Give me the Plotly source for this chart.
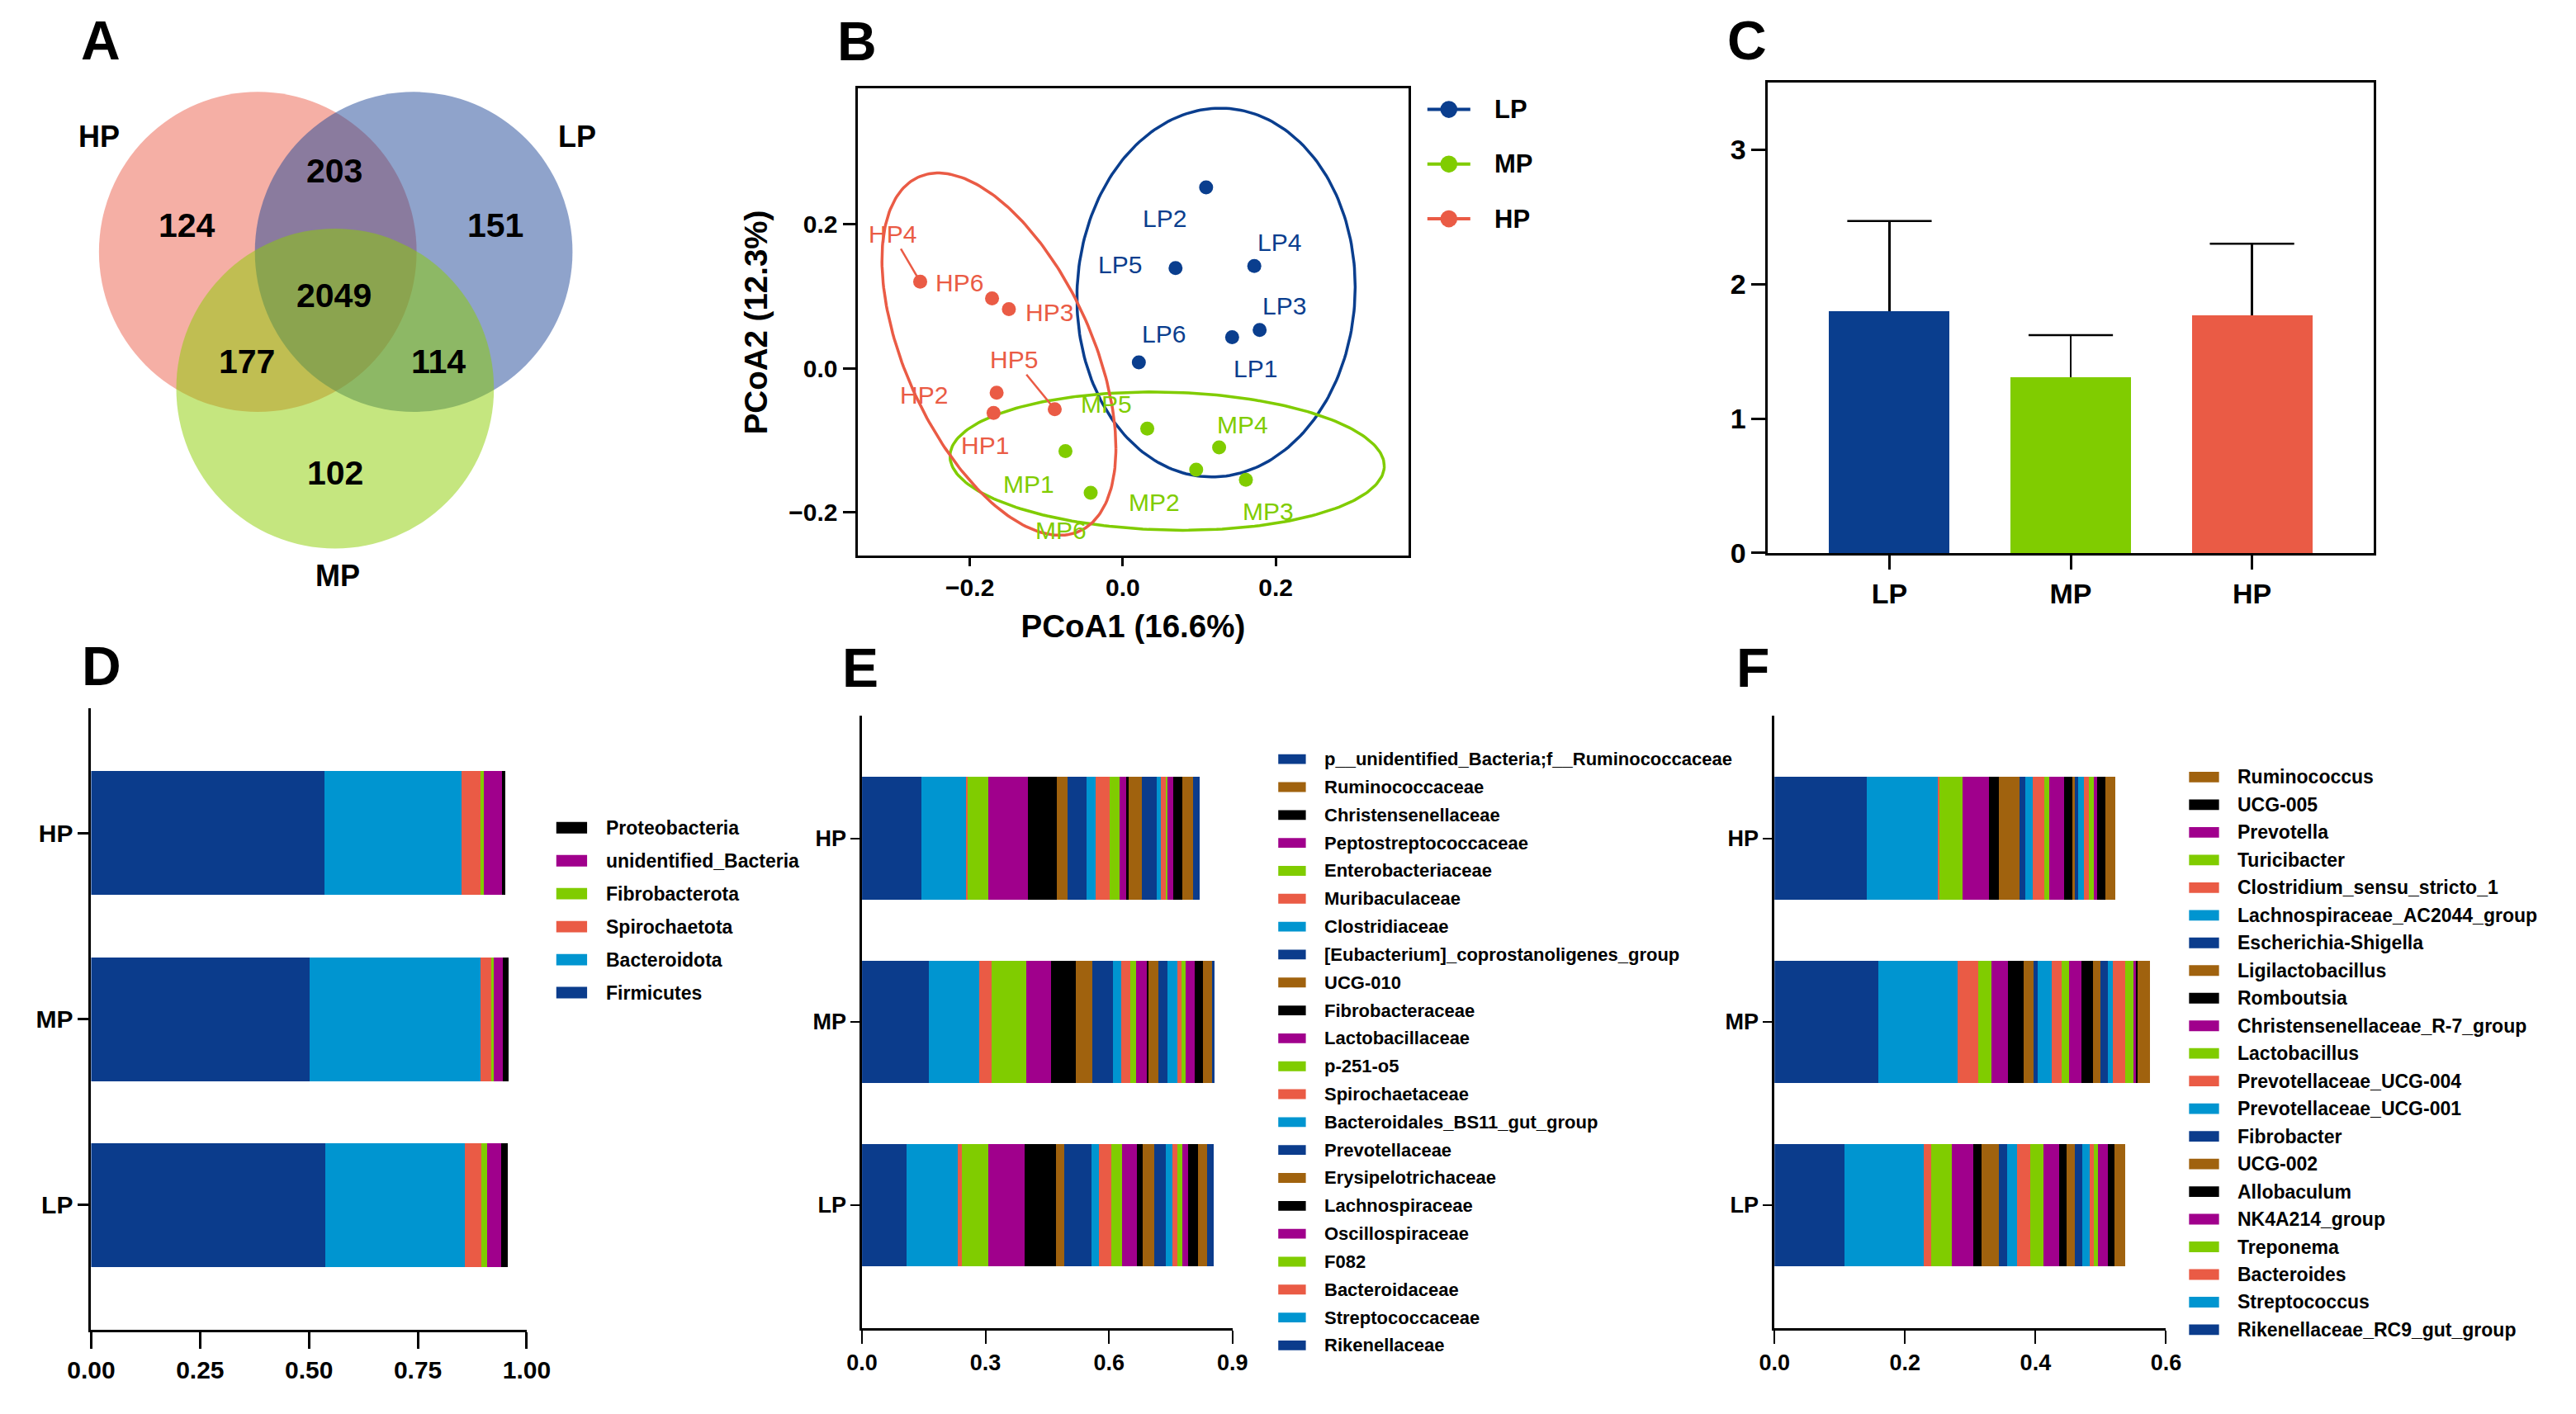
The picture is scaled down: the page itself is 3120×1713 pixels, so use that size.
import numpy as np
import plotly.graph_objects as go

W, H = 3120, 1713

# ---------------- data ----------------
GROUPS = ["LP", "MP", "HP"]
GROUP_COLORS = ["#0A3E8E", "#80CC00", "#EA5B45"]

# A: Venn counts
VENN_SETS = ["HP", "LP", "MP"]
VENN_SET_COLORS = ["#EB5F4B", "#1F4797", "#8BCD00"]
VENN_REGIONS = ["HP", "HP&LP", "LP", "HP&LP&MP", "HP&MP", "LP&MP", "MP"]
VENN_COUNTS = [124, 203, 151, 2049, 177, 114, 102]

# B: PCoA scores
LP_IDS = ["LP1", "LP2", "LP3", "LP4", "LP5", "LP6"]
LP_PC1 = [0.143, 0.109, 0.179, 0.172, 0.069, 0.021]
LP_PC2 = [0.043, 0.251, 0.053, 0.142, 0.139, 0.008]
MP_IDS = ["MP1", "MP2", "MP3", "MP4", "MP5", "MP6"]
MP_PC1 = [-0.075, 0.096, 0.161, 0.126, 0.032, -0.042]
MP_PC2 = [-0.115, -0.141, -0.155, -0.110, -0.084, -0.173]
HP_IDS = ["HP1", "HP2", "HP3", "HP4", "HP5", "HP6"]
HP_PC1 = [-0.169, -0.165, -0.149, -0.265, -0.089, -0.171]
HP_PC2 = [-0.062, -0.034, 0.082, 0.120, -0.057, 0.097]
# confidence ellipses (centre, spread x, spread y, correlation) for LP, MP, HP
ELL_CX = [0.122, 0.058, -0.162]
ELL_CY = [0.105, -0.129, 0.0195]
ELL_SX = [0.182, 0.284, 0.153]
ELL_SY = [0.256, 0.096, 0.2515]
ELL_RHO = [0.03, -0.07, -0.52]

# C: means and SD
C_MEAN = [1.80, 1.31, 1.77]
C_ERR = [0.67, 0.31, 0.53]

# D: phylum relative abundance (stack order, left to right)
D_TAXA = ["Firmicutes", "Bacteroidota", "Spirochaetota", "Fibrobacterota",
          "unidentified_Bacteria", "Proteobacteria"]
D_LP = [0.537, 0.320, 0.038, 0.014, 0.033, 0.014]
D_MP = [0.501, 0.393, 0.024, 0.006, 0.022, 0.013]
D_HP = [0.536, 0.315, 0.043, 0.007, 0.043, 0.007]

# E: family relative abundance (stack order, left to right)
E_TAXA = ["Rikenellaceae", "Streptococcaceae", "Bacteroidaceae", "F082",
          "Oscillospiraceae", "Lachnospiraceae", "Erysipelotrichaceae",
          "Prevotellaceae", "Bacteroidales_BS11_gut_group", "Spirochaetaceae",
          "p-251-o5", "Lactobacillaceae", "Fibrobacteraceae", "UCG-010",
          "[Eubacterium]_coprostanoligenes_group", "Clostridiaceae",
          "Muribaculaceae", "Enterobacteriaceae", "Peptostreptococcaceae",
          "Christensenellaceae", "Ruminococcaceae",
          "p__unidentified_Bacteria;f__Ruminococcaceae"]
E_LP = [0.1076, 0.1245, 0.0098, 0.0647, 0.0886, 0.0767, 0.0197, 0.0654, 0.0182,
        0.0310, 0.0253, 0.0373, 0.0140, 0.0275, 0.0274, 0.0162, 0.0133, 0.0120,
        0.0140, 0.0233, 0.0218, 0.0154]
E_MP = [0.1632, 0.1216, 0.0295, 0.0851, 0.0598, 0.0598, 0.0415, 0.0492, 0.0197,
        0.0218, 0.0155, 0.0267, 0.0028, 0.0239, 0.0218, 0.0253, 0.0099, 0.0098,
        0.0218, 0.0197, 0.0239, 0.0035]
E_HP = [0.1435, 0.1097, 0.0042, 0.0492, 0.0964, 0.0710, 0.0253, 0.0457, 0.0218,
        0.0352, 0.0239, 0.0155, 0.0056, 0.0337, 0.0352, 0.0098, 0.0120, 0.0042,
        0.0134, 0.0239, 0.0253, 0.0162]

# F: genus relative abundance (stack order, left to right)
F_TAXA = ["Rikenellaceae_RC9_gut_group", "Streptococcus", "Bacteroides",
          "Treponema", "NK4A214_group", "Allobaculum", "UCG-002", "Fibrobacter",
          "Prevotellaceae_UCG-001", "Prevotellaceae_UCG-004", "Lactobacillus",
          "Christensenellaceae_R-7_group", "Romboutsia", "Ligilactobacillus",
          "Escherichia-Shigella", "Lachnospiraceae_AC2044_group",
          "Clostridium_sensu_stricto_1", "Turicibacter", "Prevotella",
          "UCG-005", "Ruminococcus"]
F_LP = [0.1078, 0.1206, 0.0120, 0.0310, 0.0337, 0.0124, 0.0262, 0.0133, 0.0142,
        0.0208, 0.0204, 0.0235, 0.0120, 0.0124, 0.0111, 0.0115, 0.0067, 0.0067,
        0.0151, 0.0098, 0.0160]
F_MP = [0.1596, 0.1211, 0.0310, 0.0204, 0.0262, 0.0235, 0.0151, 0.0062, 0.0222,
        0.0151, 0.0115, 0.0182, 0.0186, 0.0111, 0.0115, 0.0067, 0.0191, 0.0124,
        0.0040, 0.0035, 0.0186]
F_HP = [0.1410, 0.1095, 0.0027, 0.0355, 0.0399, 0.0151, 0.0319, 0.0089, 0.0111,
        0.0173, 0.0080, 0.0231, 0.0124, 0.0040, 0.0049, 0.0089, 0.0071, 0.0075,
        0.0062, 0.0124, 0.0151]

PALETTE = ["#0B3C8C", "#0095D0", "#EA5B45", "#80CC00", "#A0008C", "#000000", "#A0620E"]

# ---------------- styling helpers ----------------
ARIAL = "Liberation Sans, Arial, sans-serif"


def PX(x):
    return x / W


def PY(y):
    return 1 - y / H


fig = go.Figure()
shapes = []
annots = []


def text(x, y, s, size, family=ARIAL, weight="bold", color="black", xanchor="center"):
    annots.append(dict(x=PX(x), y=PY(y), xref="paper", yref="paper", text=s,
                       showarrow=False, xanchor=xanchor, yanchor="middle",
                       font=dict(family=family, size=size, color=color, weight=weight)))


# panel letters
for letter, (lx, ly) in zip("ABCDEF", [(95, 50), (1028, 51), (2127, 50),
                                       (96, 816), (1032, 818), (2134, 818)]):
    text(lx, ly, letter, 66)

# ---------------- A: Venn ----------------
VENN_CENTERS = [(288.6, 308.5), (481.0, 308.5), (384.0, 476.0)]
VENN_R = 196
for (cx, cy), col in zip(VENN_CENTERS, VENN_SET_COLORS):
    shapes.append(dict(type="circle", xref="paper", yref="paper",
                       x0=PX(cx - VENN_R), x1=PX(cx + VENN_R),
                       y0=PY(cy + VENN_R), y1=PY(cy - VENN_R),
                       fillcolor=col, opacity=0.5, line=dict(width=0), layer="below"))
VENN_SET_LABEL_POS = [(93, 167), (683, 167), (387, 705)]
for name, (x, y) in zip(VENN_SETS, VENN_SET_LABEL_POS):
    text(x, y, name, 36)
VENN_COUNT_POS = [(201, 276), (383, 209), (582, 276), (383, 362), (275, 443),
                  (511, 443), (384, 579)]
for cnt, (x, y) in zip(VENN_COUNTS, VENN_COUNT_POS):
    text(x, y, str(cnt), 41)

# ---------------- B: PCoA ----------------
t = np.linspace(0, 2 * np.pi, 240)
for i, g in enumerate(GROUPS):
    ex = ELL_CX[i] + ELL_SX[i] * np.cos(t)
    ey = ELL_CY[i] + ELL_SY[i] * (ELL_RHO[i] * np.cos(t) + np.sqrt(1 - ELL_RHO[i] ** 2) * np.sin(t))
    fig.add_trace(go.Scatter(x=ex, y=ey, mode="lines", line=dict(color=GROUP_COLORS[i], width=3.5),
                             hoverinfo="skip", showlegend=False, xaxis="x", yaxis="y"))

PTS = {"LP": (LP_IDS, LP_PC1, LP_PC2), "MP": (MP_IDS, MP_PC1, MP_PC2), "HP": (HP_IDS, HP_PC1, HP_PC2)}
LABEL_OFF = {"LP1": (28, 38), "LP2": (-50, 37), "LP3": (30, -29), "LP4": (30, -29),
             "LP5": (-67, -4), "LP6": (30, -35),
             "HP1": (-10, 39), "HP2": (-88, 3), "HP3": (49, 4), "HP4": (-34, -58),
             "HP5": (-49, -60), "HP6": (-40, -19),
             "MP1": (-44, 40), "MP2": (-51, 39), "MP3": (27, 38), "MP4": (28, -28),
             "MP5": (-50, -30), "MP6": (-36, 45)}
ARROW_LABELS = {"HP4", "HP5"}
for i, g in enumerate(GROUPS):
    ids, xs, ys = PTS[g]
    fig.add_trace(go.Scatter(x=xs, y=ys, mode="markers", marker=dict(color=GROUP_COLORS[i], size=17),
                             text=ids, showlegend=False, xaxis="x", yaxis="y"))
    for sid, xv, yv in zip(ids, xs, ys):
        dx, dy = LABEL_OFF[sid]
        a = dict(x=xv, y=yv, xref="x", yref="y", text=sid,
                 font=dict(family=ARIAL, size=30, color=GROUP_COLORS[i]))
        if sid in ARROW_LABELS:
            a.update(showarrow=True, ax=dx, ay=dy, arrowhead=0, arrowwidth=2.5,
                     arrowcolor=GROUP_COLORS[i], standoff=0, startstandoff=0)
        else:
            a.update(showarrow=False, xshift=dx, yshift=-dy)
        annots.append(a)

# B legend
for i, g in enumerate(GROUPS):
    ly = 134 + 67 * i
    shapes.append(dict(type="line", xref="paper", yref="paper", x0=PX(1732), x1=PX(1785),
                       y0=PY(ly), y1=PY(ly), line=dict(color=GROUP_COLORS[i], width=4)))
    shapes.append(dict(type="circle", xref="paper", yref="paper", x0=PX(1748), x1=PX(1769),
                       y0=PY(ly + 10.5), y1=PY(ly - 10.5), fillcolor=GROUP_COLORS[i],
                       line=dict(width=0)))
    text(1813, ly, g, 31, xanchor="left")

# ---------------- C: bar with SD (upper whisker only) ----------------
fig.add_trace(go.Bar(x=GROUPS, y=C_MEAN, marker=dict(color=GROUP_COLORS, line=dict(width=0)),
                     width=0.665, showlegend=False, xaxis="x2", yaxis="y2",
                     error_y=dict(type="data", symmetric=False, array=C_ERR, arrayminus=[0, 0, 0],
                                  color="black", thickness=2.5, width=0)))
fig.add_trace(go.Scatter(x=GROUPS, y=[m + e for m, e in zip(C_MEAN, C_ERR)], mode="markers",
                         marker=dict(symbol="line-ew-open", size=73, color="black",
                                     line=dict(color="black", width=2.5)),
                         showlegend=False, hoverinfo="skip", xaxis="x2", yaxis="y2"))

# ---------------- D / E / F: stacked bars ----------------
def stacked(taxa, lp, mp, hp, xa, ya):
    for i, name in enumerate(taxa):
        fig.add_trace(go.Bar(y=GROUPS, x=[lp[i], mp[i], hp[i]], orientation="h", name=name,
                             marker=dict(color=PALETTE[i % 7], line=dict(width=0)), width=0.667,
                             showlegend=False, xaxis=xa, yaxis=ya))


stacked(D_TAXA, D_LP, D_MP, D_HP, "x3", "y3")
stacked(E_TAXA, E_LP, E_MP, E_HP, "x4", "y4")
stacked(F_TAXA, F_LP, F_MP, F_HP, "x5", "y5")


def legend_block(taxa, x0, x1, y_start, step, sw_h, tx, size):
    n = len(taxa)
    for k in range(n):
        i = n - 1 - k  # legend lists last stacked taxon first
        yc = y_start + step * k
        shapes.append(dict(type="rect", xref="paper", yref="paper", x0=PX(x0), x1=PX(x1),
                           y0=PY(yc + sw_h / 2), y1=PY(yc - sw_h / 2),
                           fillcolor=PALETTE[i % 7], line=dict(width=0)))
        text(tx, yc, taxa[i], size, xanchor="left")


legend_block(D_TAXA, 657, 695, 1014, 40.4, 14, 716, 23)
legend_block(E_TAXA, 1548, 1582, 930, 34.2, 12, 1603, 22)
legend_block(F_TAXA, 2672, 2709, 952, 33.85, 13, 2730, 23)

# ---------------- axes ----------------
def ax_common(**kw):
    d = dict(showgrid=False, zeroline=False, showline=True, linecolor="black",
             ticks="outside", tickcolor="black")
    d.update(kw)
    return d


def bold(size):
    return dict(family=ARIAL, size=size, color="black", weight="bold")


layout = dict(
    width=W, height=H, margin=dict(l=0, r=0, t=0, b=0),
    paper_bgcolor="white", plot_bgcolor="white", barmode="stack", showlegend=False,
    shapes=shapes, annotations=annots,
    # B
    xaxis=ax_common(domain=[PX(1028.7), PX(1709)], range=[-0.347, 0.374], anchor="y",
                    mirror=True, linewidth=3, ticklen=10, tickwidth=3,
                    tickvals=[-0.2, 0, 0.2], tickformat=".1f", tickfont=bold(30),
                    title=dict(text="PCoA1 (16.6%)", standoff=18, font=bold(38.5))),
    yaxis=ax_common(domain=[PY(681), PY(108.7)], range=[-0.2606, 0.388], anchor="x",
                    mirror=True, linewidth=3, ticklen=15, tickwidth=3,
                    tickvals=[-0.2, 0, 0.2], tickformat=".1f", tickfont=bold(30),
                    title=dict(text="PCoA2 (12.3%)", standoff=14, font=bold(38.5))),
    # C
    xaxis2=ax_common(domain=[PX(2152.4), PX(2899.6)], type="category", categoryorder="array",
                     categoryarray=GROUPS, range=[-0.67, 2.67], anchor="y2", mirror=True,
                     linewidth=3, ticklen=17, tickwidth=3, tickfont=bold(34)),
    yaxis2=ax_common(domain=[PY(677.5), PY(101)], range=[0, 3.5], anchor="x2", mirror=True,
                     linewidth=3, ticklen=17, tickwidth=3, tickvals=[0, 1, 2, 3],
                     tickfont=bold(34)),
    # D
    xaxis3=ax_common(domain=[PX(83), PX(620.5)], range=[0, 1.0], anchor="y3", linewidth=3,
                     ticklen=20, tickwidth=2.5, tickvals=[0, 0.25, 0.5, 0.75, 1.0],
                     tickformat=".2f", tickfont=bold(30)),
    yaxis3=ax_common(domain=[PY(1629), PY(868)], type="category", categoryorder="array",
                     categoryarray=GROUPS, range=[-0.67, 2.67], anchor="x3", linewidth=3,
                     ticklen=13, tickwidth=2.5, tickfont=bold(30)),
    # E
    xaxis4=ax_common(domain=[PX(1034.3), PX(1491.4)], range=[0, 0.9], anchor="y4", linewidth=2.5,
                     ticklen=16, tickwidth=2, tickvals=[0, 0.3, 0.6, 0.9], tickformat=".1f",
                     tickfont=bold(27)),
    yaxis4=ax_common(domain=[PY(1627), PY(876.3)], type="category", categoryorder="array",
                     categoryarray=GROUPS, range=[-0.67, 2.67], anchor="x4", linewidth=2.5,
                     ticklen=11, tickwidth=2, tickfont=bold(27)),
    # F
    xaxis5=ax_common(domain=[PX(2160.4), PX(2643.6)], range=[0, 0.6], anchor="y5", linewidth=2.5,
                     ticklen=16, tickwidth=2, tickvals=[0, 0.2, 0.4, 0.6], tickformat=".1f",
                     tickfont=bold(27)),
    yaxis5=ax_common(domain=[PY(1627), PY(876.3)], type="category", categoryorder="array",
                     categoryarray=GROUPS, range=[-0.67, 2.67], anchor="x5", linewidth=2.5,
                     ticklen=11, tickwidth=2, tickfont=bold(27)),
)
fig.update_layout(**layout)

fig.write_html("out.html", config={"displayModeBar": False},
               post_script="document.body.style.margin='0';")
